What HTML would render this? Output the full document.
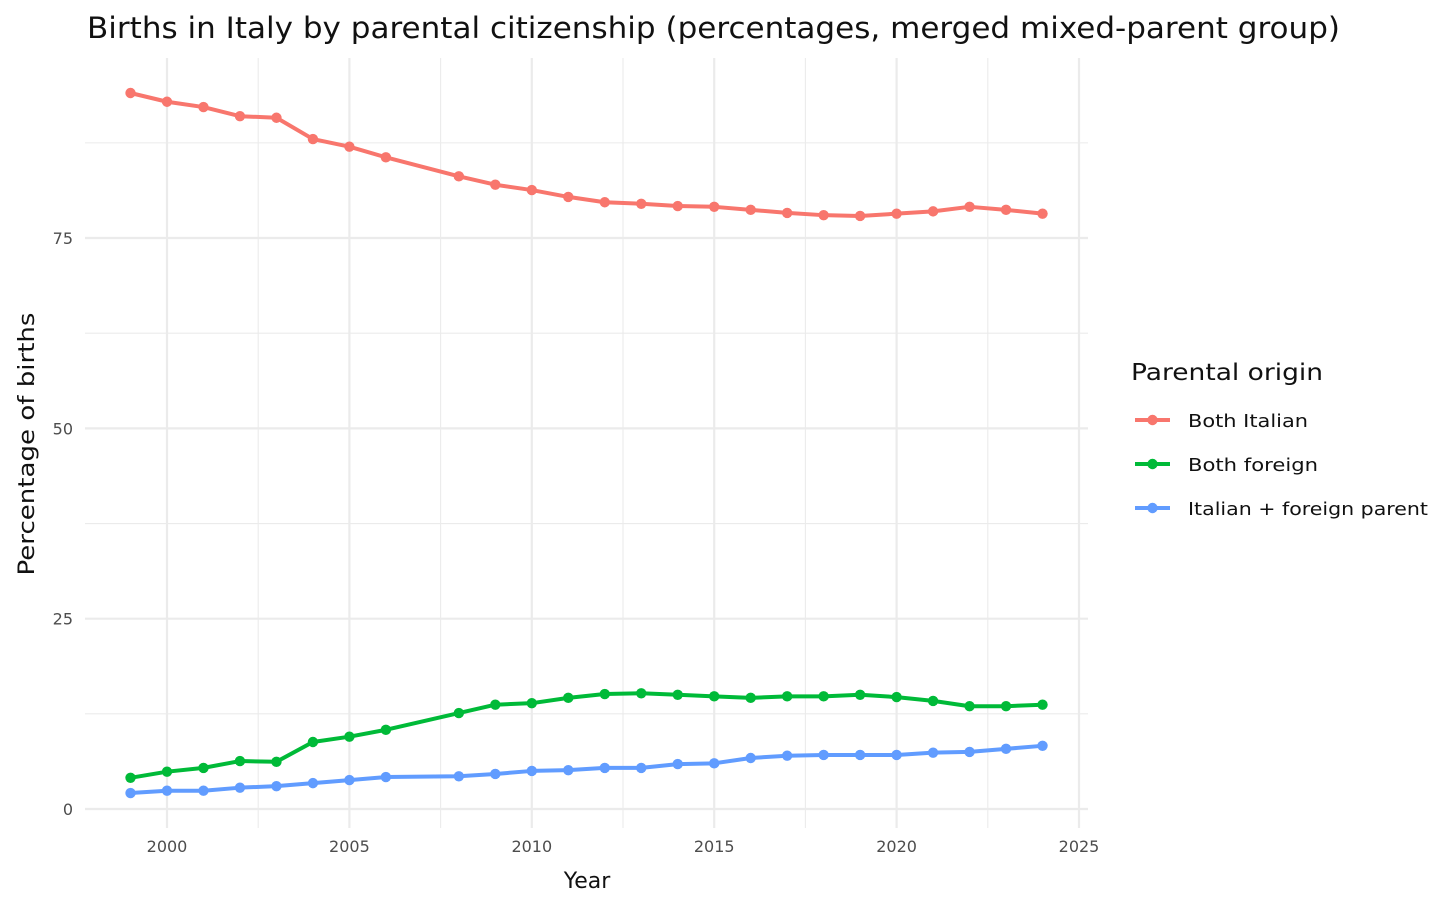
<!DOCTYPE html>
<html><head><meta charset="utf-8">
<style>
html,body{margin:0;padding:0;background:#fff;}
svg{display:block;font-family:"DejaVu Sans","Liberation Sans",sans-serif;}
</style></head>
<body>
<svg id="chart" width="1456" height="910">
<text x="87" y="38" font-size="29" fill="#111" textLength="1253" lengthAdjust="spacingAndGlyphs">Births in Italy by parental citizenship (percentages, merged mixed-parent group)</text>
<g id="grid"></g><g id="series"></g><g id="axes"></g>
<text x="587" y="888" font-size="22" fill="#111" text-anchor="middle">Year</text>
<text transform="translate(34,444) rotate(-90)" font-size="22" fill="#111" text-anchor="middle" textLength="263" lengthAdjust="spacingAndGlyphs">Percentage of births</text>
<g>
<text x="1131" y="380" font-size="23" fill="#111" textLength="192" lengthAdjust="spacingAndGlyphs">Parental origin</text>
<g id="legend"></g>
</g>
</svg>
<script>
const years=[1999,2000,2001,2002,2003,2004,2005,2006,2008,2009,2010,2011,2012,2013,2014,2015,2016,2017,2018,2019,2020,2021,2022,2023,2024];
const bothItalian=[94.05,92.9,92.2,91.0,90.8,88.0,87.0,85.6,83.1,82.0,81.3,80.4,79.7,79.5,79.2,79.1,78.7,78.3,78.0,77.9,78.2,78.5,79.1,78.7,78.2];
const bothForeign=[4.1,4.9,5.4,6.3,6.2,8.8,9.5,10.4,12.6,13.7,13.9,14.6,15.1,15.2,15.0,14.8,14.6,14.8,14.8,15.0,14.7,14.2,13.5,13.5,13.7];
const mixedParent=[2.1,2.4,2.4,2.8,3.0,3.4,3.8,4.2,4.3,4.6,5.0,5.1,5.4,5.4,5.9,6.0,6.7,7.0,7.1,7.1,7.1,7.4,7.5,7.9,8.3];
const seriesNames=["Both Italian","Both foreign","Italian + foreign parent"];
const legendWidths=[120,130,240];
const xTicks=[2000,2005,2010,2015,2020,2025];
const yTicks=[0,25,50,75];

const NS="http://www.w3.org/2000/svg";
const X=v=>167+(v-2000)*36.48;
const Y=v=>809-v*7.613;
const L=85,R=1088,T=58,B=828;
function mk(tag,attrs,parent){const e=document.createElementNS(NS,tag);for(const k in attrs)e.setAttribute(k,attrs[k]);parent.appendChild(e);return e;}
const grid=document.getElementById('grid'),axes=document.getElementById('axes'),ser=document.getElementById('series'),leg=document.getElementById('legend');
for(let v=-12.5;v<=100;v+=12.5){const y=Y(v);if(y<T||y>B)continue;const major=v%25===0;
 const l=mk('line',{x1:L,x2:R,y1:y,y2:y,stroke:'#ebebeb','stroke-width':major?2.2:1.1},grid);
 
 }
for(let v=1997.5;v<=2027;v+=2.5){const x=X(v);if(x<L-1||x>R+1)continue;const major=v%5===0;
 const l=mk('line',{x1:x,x2:x,y1:T,y2:B,stroke:'#ebebeb','stroke-width':major?2.2:1.1},grid);
 
 }
xTicks.forEach(t=>{const e=mk('text',{x:X(t),y:852,'font-size':16,fill:'#4d4d4d','text-anchor':'middle'},axes);e.textContent=t;
 
 });
yTicks.forEach(t=>{const e=mk('text',{x:73,y:Y(t)+6,'font-size':16,fill:'#4d4d4d','text-anchor':'end'},axes);e.textContent=t;
 
 });
const colors=['#F8766D','#00BA38','#619CFF'];
[bothItalian,bothForeign,mixedParent].forEach((vals,i)=>{
 const g=mk('g',{},ser);
 
 
 const p=mk('polyline',{points:vals.map((v,j)=>X(years[j])+','+Y(v)).join(' '),fill:'none',stroke:colors[i],'stroke-width':4,'stroke-linejoin':'round'},g);
 
 
 vals.forEach((v,j)=>{const c=mk('circle',{cx:X(years[j]),cy:Y(v),r:5.2,fill:colors[i]},g);
  
  });
 const ly=420+i*44;
 const k=mk('g',{},leg);
 
 
 mk('line',{x1:1135,x2:1170,y1:ly,y2:ly,stroke:colors[i],'stroke-width':4},k);
 mk('circle',{cx:1152.5,cy:ly,r:5.2,fill:colors[i]},k);
 const t=mk('text',{x:1188,y:ly+7,'font-size':18,fill:'#111',textLength:legendWidths[i],lengthAdjust:'spacingAndGlyphs'},k);t.textContent=seriesNames[i];
});
</script>
</body></html>
